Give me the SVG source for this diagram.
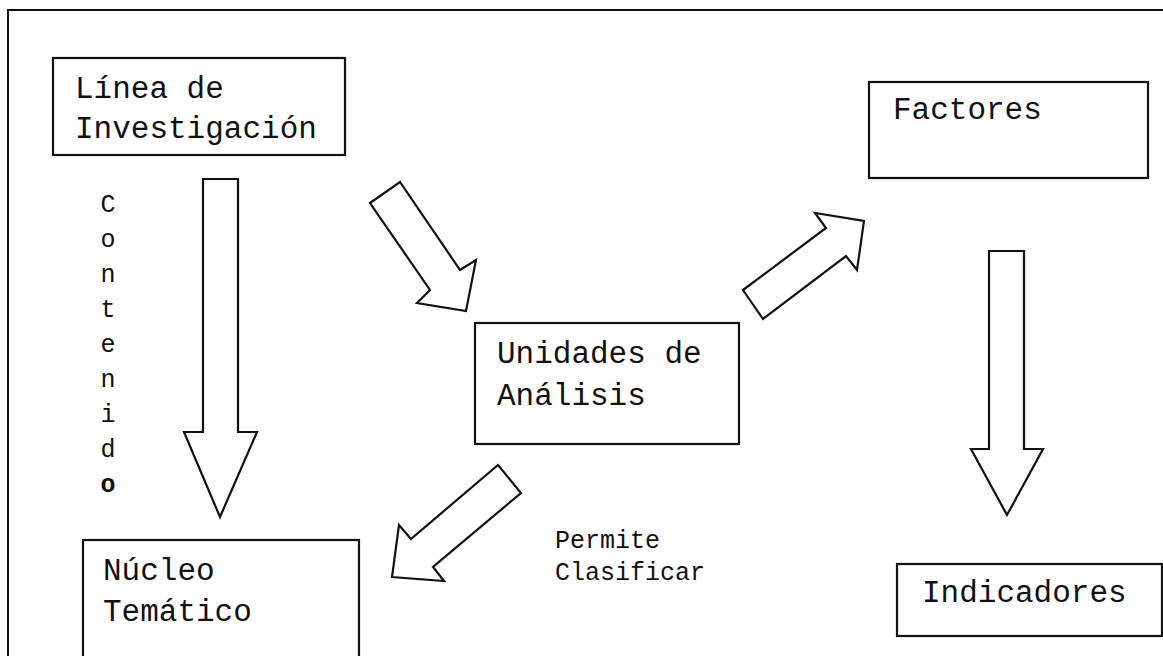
<svg xmlns="http://www.w3.org/2000/svg" width="1163" height="656" viewBox="0 0 1163 656">
<style>
.box{fill:#fff;stroke:#111;stroke-width:2.2}
.arr{fill:#fff;stroke:#111;stroke-width:2.2;stroke-linejoin:miter}
.t{font-family:"Liberation Mono","Courier New",monospace;font-size:31px;fill:#111}
.s{font-family:"Liberation Mono","Courier New",monospace;font-size:25px;fill:#111}
.v{font-family:"Liberation Mono","Courier New",monospace;font-size:25px;fill:#111;text-anchor:middle}
</style>
<rect width="1163" height="656" fill="#fff"/>
<g id="frame"><path d="M8,660 L8,10 L1170,10" fill="none" stroke="#111" stroke-width="2"/></g>
<g id="linea"><rect class="box" x="53" y="58" width="292" height="97"/><text class="t" x="75" y="98">Línea de</text><text class="t" x="75" y="138">Investigación</text></g>
<g id="factores"><rect class="box" x="869" y="82" width="279" height="96"/><text class="t" x="893" y="119">Factores</text></g>
<g id="unidades"><rect class="box" x="475" y="323" width="264" height="121"/><text class="t" x="497" y="363">Unidades de</text><text class="t" x="497" y="405">Análisis</text></g>
<g id="nucleo"><rect class="box" x="83" y="540" width="276" height="130"/><text class="t" x="103" y="580">Núcleo</text><text class="t" x="103" y="621">Temático</text></g>
<g id="indicadores"><rect class="box" x="897" y="564" width="265" height="72"/><text class="t" x="922" y="602">Indicadores</text></g>
<g id="connectors">
<polygon class="arr" points="203,179 238,179 238,432 257,432 220,517 184,432 203,432"/>
<polygon class="arr" points="370,203 400,182 460,270 476,260 466,311 417,303 430,290"/>
<polygon class="arr" points="743,290 826,228 815,213 864,221 857,270 846,256 763,319"/>
<polygon class="arr" points="989,251 1024,251 1024,449 1043,449 1007,515 971,449 989,449"/>
<polygon class="arr" points="498,465 521,493 433,567 444,581 392,577 399,525 411,539"/>
</g>
<g id="labels">
<text class="v" x="108" y="212">C</text>
<text class="v" x="108" y="247">o</text>
<text class="v" x="108" y="282">n</text>
<text class="v" x="108" y="317">t</text>
<text class="v" x="108" y="352">e</text>
<text class="v" x="108" y="387">n</text>
<text class="v" x="108" y="422">i</text>
<text class="v" x="108" y="457">d</text>
<text class="v" x="108" y="492" font-weight="bold">o</text>
<text class="s" x="555" y="548">Permite</text>
<text class="s" x="555" y="580">Clasificar</text>
</g>
</svg>
